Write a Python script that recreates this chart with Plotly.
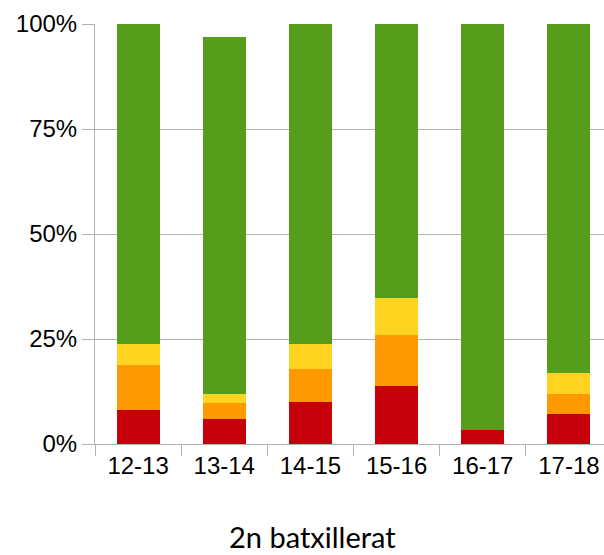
import plotly.graph_objects as go

categories = ["12-13", "13-14", "14-15", "15-16", "16-17", "17-18"]
red_vals = [8.0, 6.0, 9.9, 13.9, 3.4, 7.2]
orange_vals = [10.9, 3.8, 8.0, 12.1, 0.0, 4.8]
yellow_vals = [5.0, 2.2, 6.0, 8.8, 0.0, 5.0]
green_vals = [76.1, 85.0, 76.1, 65.2, 96.6, 83.0]
y_ticks = [0, 25, 50, 75, 100]
y_tick_text = ["0%", "25%", "50%", "75%", "100%"]
x_title = "2n batxillerat"

series = [
    (red_vals, "#c5000b"),
    (orange_vals, "#ff9900"),
    (yellow_vals, "#ffd320"),
    (green_vals, "#579d1c"),
]

fig = go.Figure()
for vals, col in series:
    fig.add_trace(go.Bar(x=categories, y=vals, marker=dict(color=col, line=dict(width=0)),
                         width=0.5, showlegend=False))

fig.update_layout(
    barmode="stack",
    width=604, height=555,
    margin=dict(l=95, r=0, t=24, b=111, pad=0),
    plot_bgcolor="white", paper_bgcolor="white",
    font=dict(family="Liberation Sans", size=24, color="#000000"),
    xaxis=dict(
        type="category",
        range=[-0.5, 5.407],
        tickson="boundaries",
        ticks="outside", ticklen=11, tickcolor="#b3b3b3", tickwidth=1,
        showgrid=False,
        showline=True, linecolor="#b3b3b3", linewidth=1,
        tickfont=dict(size=24),
    ),
    yaxis=dict(
        range=[0, 100],
        tickmode="array", tickvals=y_ticks, ticktext=y_tick_text,
        ticks="outside", ticklen=12, tickcolor="#b3b3b3", tickwidth=1,
        showgrid=True, gridcolor="#b3b3b3", gridwidth=1,
        showline=True, linecolor="#b3b3b3", linewidth=1,
        zeroline=False,
        tickfont=dict(size=24),
    ),
    annotations=[dict(text=x_title, xref="paper", yref="paper",
                      x=(312 - 95) / 509, y=(444 - 536) / 420,
                      xanchor="center", yanchor="middle", showarrow=False,
                      font=dict(family="Lato", size=29, color="#000000"))],
)

fig.write_html(
    "out.html",
    config={"displayModeBar": False},
    post_script="document.body.style.margin='0';document.body.style.overflow='hidden';",
)
